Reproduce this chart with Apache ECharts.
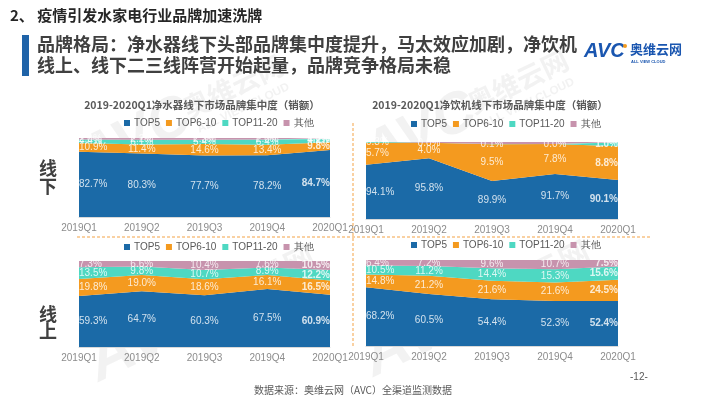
<!DOCTYPE html>
<html><head><meta charset="utf-8">
<script src="https://cdn.jsdelivr.net/npm/echarts@6/dist/echarts.min.js"></script>
<style>html,body{margin:0;padding:0;background:#fff}#c{width:706px;height:405px}</style>
</head><body><div id="c"></div>
<script>
const categories = ['2019Q1','2019Q2','2019Q3','2019Q4','2020Q1'];
const seriesNames = ['TOP5','TOP6-10','TOP11-20','其他'];
const seriesColors = ['#1B6AA7','#F49A1F','#4ED8C2','#C793AD'];

// 净水器 线下
const purOffTop5 = [82.7, 80.3, 77.7, 78.2, 84.7];
const purOffTop610 = [10.9, 11.4, 14.6, 13.4, 9.8];
const purOffTop1120 = [4.4, 6.1, 5.4, 6.4, 4.2];
const purOffOther = [2.0, 2.2, 2.3, 2.0, 1.3];
// 净饮机 线下
const drkOffTop5 = [94.1, 95.8, 89.9, 91.7, 90.1];
const drkOffTop610 = [5.7, 4.0, 9.5, 7.8, 8.8];
const drkOffTop1120 = [0.3, 0.0, 0.1, 0.0, 1.0];
const drkOffOther = [0.0, 0.2, 0.5, 0.5, 0.1];
// 净水器 线上
const purOnTop5 = [59.3, 64.7, 60.3, 67.5, 60.9];
const purOnTop610 = [19.8, 19.0, 18.6, 16.1, 16.5];
const purOnTop1120 = [13.5, 9.8, 10.7, 8.9, 12.2];
const purOnOther = [7.3, 6.6, 10.4, 7.6, 10.5];
// 净饮机 线上
const drkOnTop5 = [68.2, 60.5, 54.4, 52.3, 52.4];
const drkOnTop610 = [14.8, 21.2, 21.6, 21.6, 24.5];
const drkOnTop1120 = [10.5, 11.2, 14.4, 15.3, 15.6];
const drkOnOther = [6.4, 7.2, 9.6, 10.7, 7.5];

const chartTitles = ['2019-2020Q1净水器线下市场品牌集中度（销额）','2019-2020Q1净饮机线下市场品牌集中度（销额）'];

const panels = [
  {data:[purOffTop5,purOffTop610,purOffTop1120,purOffOther], ymin:0, grid:{left:79,right:376,top:138,bottom:188}, legendX:124, legendY:118, hideTopLabel:false},
  {data:[drkOffTop5,drkOffTop610,drkOffTop1120,drkOffOther], ymin:80, grid:{left:366,right:88,top:142,bottom:186}, legendX:411, legendY:119, hideTopLabel:true},
  {data:[purOnTop5,purOnTop610,purOnTop1120,purOnOther], ymin:0, grid:{left:79,right:376,top:261,bottom:58}, legendX:124, legendY:242, hideTopLabel:false},
  {data:[drkOnTop5,drkOnTop610,drkOnTop1120,drkOnOther], ymin:0, grid:{left:366,right:88,top:260,bottom:59}, legendX:411, legendY:240, hideTopLabel:false}
];

const grids=[], xAxes=[], yAxes=[], series=[], legends=[];
const numFont = 'Liberation Sans, Arial, sans-serif';
const cjk = '"Noto Sans CJK SC", sans-serif';

panels.forEach((p, gi) => {
  grids.push(Object.assign({containLabel:false}, p.grid));
  xAxes.push({type:'category', gridIndex:gi, data:categories, boundaryGap:false,
    axisTick:{show:false}, axisLine:{show:true, lineStyle:{color:'#d9d9d9'}},
    axisLabel:{color:'#8c8c8c', fontSize:10, fontFamily:numFont, margin:6}, splitLine:{show:false}, z:0});
  yAxes.push({type:'value', gridIndex:gi, min:p.ymin, max:100, show:false, splitLine:{show:false}});
  legends.push({data:seriesNames, left:p.legendX, top:p.legendY, orient:'horizontal',
    icon:'rect', itemWidth:6, itemHeight:6, itemGap:6, padding:0,
    textStyle:{color:'#595959', fontSize:10, fontFamily:numFont, padding:[0,0,0,-1]}, selectedMode:false});
  const cum = [0,0,0,0,0];
  p.data.forEach((vals, si) => {
    series.push({name:seriesNames[si], type:'line', xAxisIndex:gi, yAxisIndex:gi, stack:'s'+gi,
      data:vals, symbol:'none', lineStyle:{width:0}, areaStyle:{opacity:1, color:seriesColors[si]},
      itemStyle:{color:seriesColors[si]}, silent:true, z:2, animation:false});
    const mids = vals.map((v, i) => {
      const lower = Math.max(cum[i], p.ymin);
      const upper = cum[i] + v;
      cum[i] = upper;
      const last = i === vals.length - 1, first = i === 0;
      return {value:(lower + upper) / 2, label:{
        align: first ? 'left' : (last ? 'right' : 'center'),
        fontWeight: last ? 'bold' : 'normal',
        formatter: v.toFixed(1) + '%'
      }};
    });
    const hide = p.hideTopLabel && si === 3;
    series.push({name:'lbl'+gi+'_'+si, type:'scatter', xAxisIndex:gi, yAxisIndex:gi, data:mids,
      symbolSize:0, silent:true, z:5, animation:false,
      label:{show:!hide, position:'inside', color:'#ffffff', fontSize:10, fontFamily:numFont}});
  });
});

const g = [];
// Header
g.push({type:'text', x:10, y:8, style:{text:'2、 疫情引发水家电行业品牌加速洗牌', font:'bold 15px '+cjk, fill:'#262626'}, z:20});
g.push({type:'rect', shape:{x:22, y:35, width:7, height:41}, style:{fill:'#1F63A8'}, z:20});
g.push({type:'text', x:37, y:35, style:{text:'品牌格局：净水器线下头部品牌集中度提升，马太效应加剧，净饮机', font:'bold 18px '+cjk, fill:'#404040'}, z:20});
g.push({type:'text', x:37, y:56, style:{text:'线上、线下二三线阵营开始起量，品牌竞争格局未稳', font:'bold 18px '+cjk, fill:'#404040'}, z:20});
// Logo
g.push({type:'text', x:584, y:41, style:{text:'AVC', font:'italic bold 20px '+numFont, fill:'#1A56B0'}, z:20});
g.push({type:'circle', shape:{cx:625, cy:46, r:2}, style:{fill:'#F39A1E'}, z:21});
g.push({type:'text', x:630, y:43, style:{text:'奥维云网', font:'bold 13px '+cjk, fill:'#1A56B0'}, z:20});
g.push({type:'text', x:631, y:60, style:{text:'ALL VIEW CLOUD', font:'bold 4px '+numFont, fill:'#1A56B0'}, z:20});
// Chart titles
g.push({type:'text', x:202, y:105, style:{text:chartTitles[0], font:'bold 10.5px '+cjk, fill:'#595959', align:'center', verticalAlign:'middle'}, z:20});
g.push({type:'text', x:490, y:105, style:{text:chartTitles[1], font:'bold 10.5px '+cjk, fill:'#595959', align:'center', verticalAlign:'middle'}, z:20});
// Side labels
[['线',168],['下',186],['线',314],['上',331]].forEach(a => {
  g.push({type:'text', x:48, y:a[1], style:{text:a[0], font:'bold 18px '+cjk, fill:'#404040', align:'center', verticalAlign:'middle'}, z:20});
});
// Dashed separators
g.push({type:'line', shape:{x1:77, y1:237, x2:652, y2:237}, style:{stroke:'#F4A347', lineWidth:1, lineDash:[3,2]}, z:20});
g.push({type:'line', shape:{x1:353, y1:123, x2:353, y2:348}, style:{stroke:'#F4A347', lineWidth:1, lineDash:[3,2]}, z:20});
// Footer
g.push({type:'text', x:254, y:390, style:{text:'数据来源：奥维云网（AVC）全渠道监测数据', font:'10px '+cjk, fill:'#595959', verticalAlign:'middle'}, z:20});
g.push({type:'text', x:630, y:377, style:{text:'-12-', font:'10px '+numFont, fill:'#595959', verticalAlign:'middle'}, z:20});
// Watermarks
const wmFill = 'rgba(215,215,215,0.33)';
function wm(x, y, scale) {
  g.push({type:'group', x:x, y:y, rotation:Math.PI/7, scaleX:scale, scaleY:scale, z:30, silent:true, children:[
    {type:'text', x:0, y:0, style:{text:'AVC', font:'italic bold 64px '+numFont, fill:wmFill, verticalAlign:'bottom'}},
    {type:'text', x:128, y:-22, style:{text:'奥维云网', font:'bold 30px '+cjk, fill:wmFill, verticalAlign:'bottom'}},
    {type:'text', x:132, y:-4, style:{text:'ALL VIEW CLOUD', font:'bold 13px '+numFont, fill:wmFill, verticalAlign:'bottom'}}
  ]});
}
wm(105, 395, 1);
wm(380, 390, 1);
wm(95, 190, 0.9);
wm(380, 185, 0.9);

const chart = echarts.init(document.getElementById('c'), null, {renderer:'canvas'});
chart.setOption({
  animation:false,
  backgroundColor:'#ffffff',
  grid:grids, xAxis:xAxes, yAxis:yAxes, legend:legends, series:series, graphic:g
});
</script></body></html>
